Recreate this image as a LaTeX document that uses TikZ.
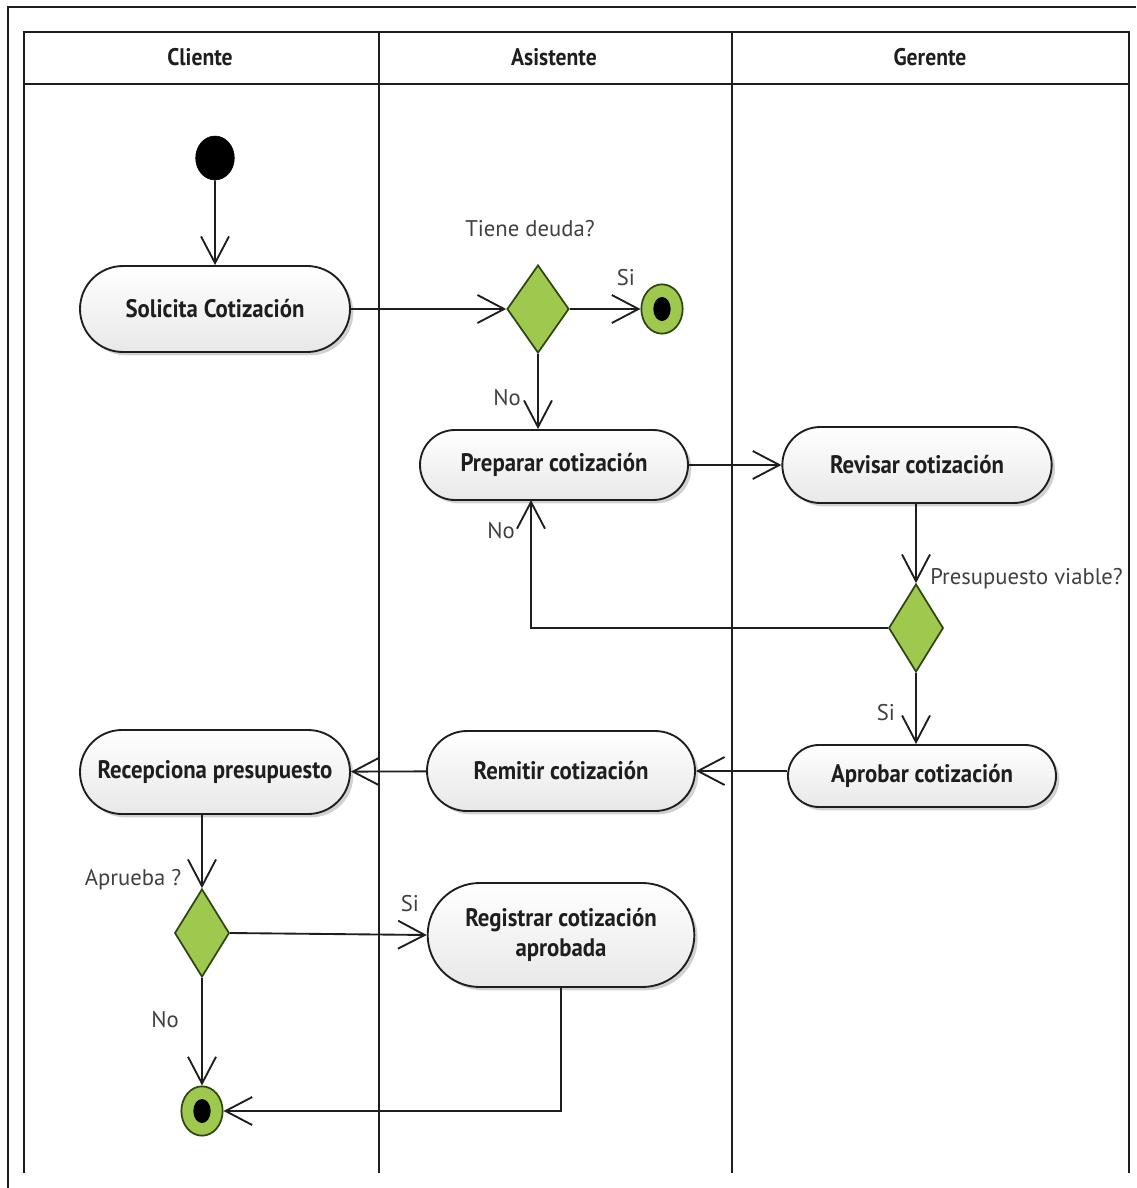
\documentclass[tikz,border=0pt]{standalone}
\usepackage{fontspec}
\usetikzlibrary{shapes.geometric,shapes.misc,shadows,arrows.meta}
\newfontfamily\actfont[FakeStretch=0.9]{PT Sans}
\newfontfamily\lblfont{PT Sans}
\definecolor{dgreen}{RGB}{158,200,78}
\definecolor{dgreenline}{RGB}{45,70,20}
\definecolor{inkc}{RGB}{30,30,30}
\tikzset{
  lane/.style={draw=inkc, line width=1.8pt},
  action/.style={rounded rectangle, draw=inkc, line width=1.4pt,
    top color=white, bottom color=black!9,
    drop shadow={shadow xshift=2.5pt, shadow yshift=-2.5pt, opacity=0.18, fill=black},
    font=\actfont\bfseries\fontsize{19}{24}\selectfont, text=inkc, align=center,
    inner sep=0pt, minimum width=201pt},
  decision/.style={diamond, draw=dgreenline, line width=1.3pt, fill=dgreen,
    inner sep=0pt, minimum width=41pt, minimum height=66pt},
  startnode/.style={ellipse, fill=black, draw=black, inner sep=0pt,
    minimum width=29pt, minimum height=33pt},
  endnode/.style={ellipse, draw=dgreenline, line width=1.3pt, fill=dgreen,
    inner sep=0pt, minimum width=31pt, minimum height=37pt,
    path picture={\fill[black] (path picture bounding box.center) ellipse (6.5pt and 9pt);}},
  flow/.style={draw=inkc, line width=1.4pt,
    -{Straight Barb[length=20pt,width=21pt,line width=1.4pt]}},
  guard/.style={font=\lblfont\fontsize{17}{20}\selectfont, text=inkc!85, inner sep=0pt},
  header/.style={font=\actfont\bfseries\fontsize{18}{20}\selectfont, text=inkc, inner sep=0pt}
}
\begin{document}
\begin{tikzpicture}[x=0.75pt, y=-0.75pt]
  \useasboundingbox (0,0) rectangle (1136,1188);
  % outer frame
  \draw[draw=inkc, line width=1.2pt] (1136,7) -- (8,7) -- (8,1188);

  % swimlanes
  \draw[lane] (24,1173) -- (24,32) -- (1129,32) -- (1129,1173);
  \draw[lane] (24,84) -- (1129,84);
  \draw[lane] (379,32) -- (379,1173);
  \draw[lane] (732,32) -- (732,1173);
  \node[header] (hcli) at (200,57) {Cliente};
  \node[header] (hasi) at (554,57) {Asistente};
  \node[header] (hger) at (930,57) {Gerente};

  % nodes
  \node[startnode] (init) at (215,158) {};
  \node[action, minimum width=202.5pt, minimum height=64.5pt] (solicita) at (215,309) {Solicita Cotización};
  \node[decision, minimum width=46.5pt] (d1) at (538,309) {};
  \node[endnode] (f1) at (662,309) {};
  \node[action, minimum height=52.5pt] (preparar) at (554,465) {Preparar cotización};
  \node[action, minimum width=202pt, minimum height=57pt] (revisar) at (917,465) {Revisar cotización};
  \node[decision] (d2) at (916,628) {};
  \node[action, minimum height=46.5pt] (aprobar) at (922,776) {Aprobar cotización};
  \node[action, minimum height=60pt] (remitir) at (561,771) {Remitir cotización};
  \node[action, minimum width=202.5pt, minimum height=63pt] (recepciona) at (215,772) {Recepciona presupuesto};
  \node[decision] (d3) at (202,933) {};
  \node[action, minimum width=200pt, minimum height=78pt] (registrar) at (561,935) {Registrar cotización\\[-1pt]aprobada};
  \node[endnode] (f2) at (202,1111) {};
  \coordinate (pb) at (531,500);

  % guard labels
  \node[guard] (qdeuda) at (530,229) {Tiene deuda?};
  \node[guard] (lsi1) at (626,278) {Si};
  \node[guard] (lno1) at (507,398) {No};
  \node[guard, anchor=west] (qviable) at (930,579) {Presupuesto viable?};
  \node[guard] (lno2) at (501,531) {No};
  \node[guard] (lsi2) at (886,713) {Si};
  \node[guard] (qaprueba) at (133,880) {Aprueba ?};
  \node[guard] (lsi3) at (410,904) {Si};
  \node[guard] (lno3) at (165,1020) {No};

  % control flows
  \draw[flow] (init) -- (solicita);
  \draw[flow] (solicita) -- (d1);
  \draw[flow] (d1) -- (f1);
  \draw[flow] (d1.south) -- (d1.south |- preparar.north);
  \draw[flow] (preparar) -- (revisar);
  \draw[flow] (d2.north |- revisar.south) -- (d2.north);
  \draw[flow] (d2.west) -| (pb);
  \draw[flow] (d2.south) -- (d2.south |- aprobar.north);
  \draw[flow] (aprobar.west |- remitir) -- (remitir.east);
  \draw[flow] (remitir) -- (recepciona);
  \draw[flow] (d3 |- recepciona.south) -- (d3.north);
  \draw[flow] (d3.east) -- (registrar.west);
  \draw[flow] (d3.south) -- (f2.north);
  \draw[flow] (registrar.south) |- (f2.east);
\end{tikzpicture}
\end{document}
